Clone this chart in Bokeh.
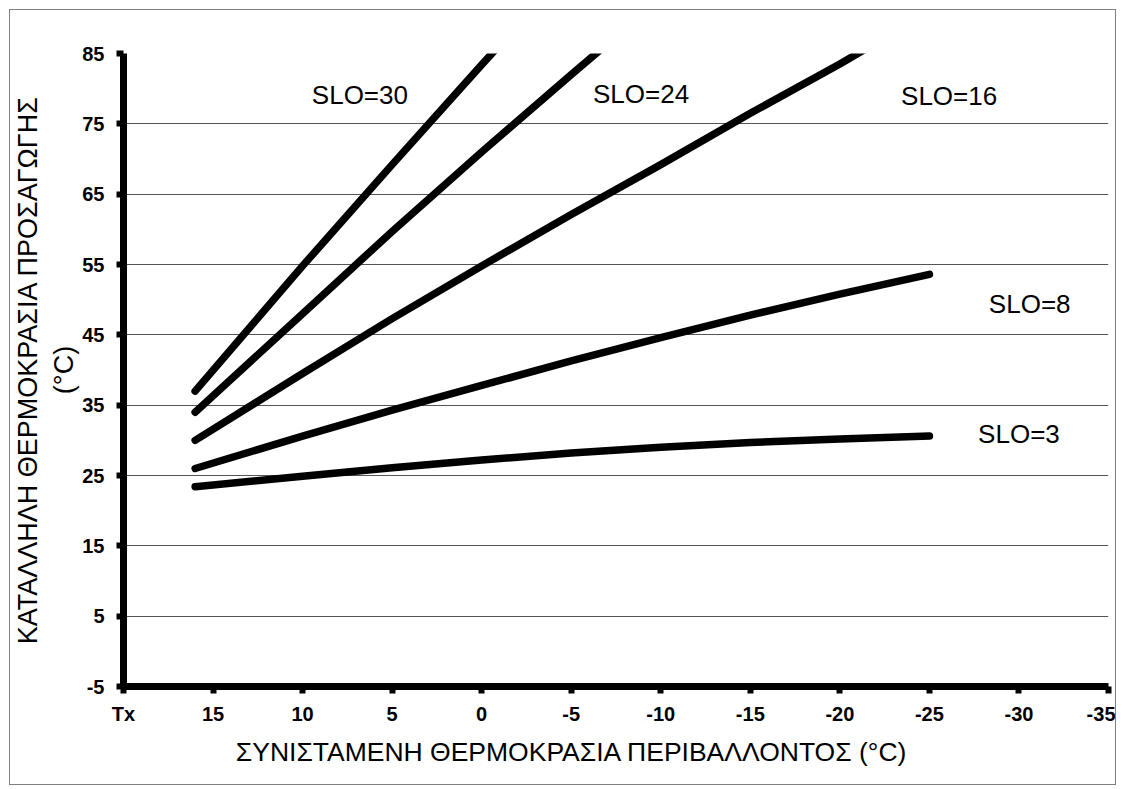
from bokeh.plotting import figure
from bokeh.models import Range1d, FixedTicker, Label
from bokeh.embed import file_html
from bokeh.resources import INLINE

# ---- data ----
x_ticks = [20, 15, 10, 5, 0, -5, -10, -15, -20, -25, -30, -35]
x_tick_labels = ["Tx", "15", "10", "5", "0", "-5", "-10", "-15", "-20", "-25", "-30", "-35"]
y_ticks = [-5, 5, 15, 25, 35, 45, 55, 65, 75, 85]
y_tick_labels = ["-5", "5", "15", "25", "35", "45", "55", "65", "75", "85"]

slo30_x = [16, 10, 5, 0, -2]
slo30_y = [37.0, 54.8, 69.2, 83.4, 89.0]

slo24_x = [16, 10, 5, 0, -5, -8]
slo24_y = [34.0, 48.0, 59.7, 71.0, 82.0, 88.5]

slo16_x = [16, 10, 5, 0, -5, -10, -15, -20, -22]
slo16_y = [30.0, 39.5, 47.3, 54.8, 62.1, 69.2, 76.5, 83.5, 86.5]

slo8_x = [16, 10, 5, 0, -5, -10, -15, -20, -25]
slo8_y = [26.0, 30.6, 34.3, 37.8, 41.3, 44.6, 47.8, 50.8, 53.6]

slo3_x = [16, 10, 5, 0, -5, -10, -15, -20, -25]
slo3_y = [23.4, 24.9, 26.1, 27.2, 28.2, 29.0, 29.7, 30.2, 30.6]

series = [
    ("SLO=30", slo30_x, slo30_y, (6.8, 79.1)),
    ("SLO=24", slo24_x, slo24_y, (-8.9, 79.3)),
    ("SLO=16", slo16_x, slo16_y, (-26.1, 79.0)),
    ("SLO=8", slo8_x, slo8_y, (-30.6, 49.4)),
    ("SLO=3", slo3_x, slo3_y, (-30.0, 30.9)),
]

x_title = "ΣΥΝΙΣΤΑΜΕΝΗ ΘΕΡΜΟΚΡΑΣΙΑ ΠΕΡΙΒΑΛΛΟΝΤΟΣ (°C)"
y_title = "ΚΑΤΑΛΛΗΛΗ ΘΕΡΜΟΚΡΑΣΙΑ ΠΡΟΣΑΓΩΓΗΣ\n(°C)"

FONT = "Liberation Sans"

p = figure(width=1107, height=776, output_backend="svg", toolbar_location=None,
           x_range=Range1d(20, -35), y_range=Range1d(-5, 85),
           min_border_left=112, min_border_right=9, min_border_top=43,
           min_border_bottom=100)
p.styles = {"border": "1px solid #808080", "margin-left": "9px", "margin-top": "9px"}
p.outline_line_color = None
p.background_fill_color = "white"
p.border_fill_color = "white"

# axes
for ax in (p.xaxis[0], p.yaxis[0]):
    ax.axis_line_width = 7
    ax.axis_line_color = "black"
    ax.major_tick_line_width = 6
    ax.major_tick_line_color = "black"
    ax.major_tick_out = 7
    ax.major_tick_in = 0
    ax.minor_tick_line_color = None
    ax.major_label_text_font = FONT
    ax.major_label_text_font_style = "bold"
    ax.major_label_text_font_size = "20px"
    ax.major_label_text_color = "black"
    ax.axis_label_text_font = FONT
    ax.axis_label_text_font_style = "normal"
    ax.axis_label_text_color = "black"

p.xaxis.ticker = FixedTicker(ticks=x_ticks)
p.xaxis.major_label_overrides = dict(zip(x_ticks, x_tick_labels))
p.xaxis.major_label_standoff = 9
p.xaxis.axis_label = x_title + "\u00a0" * 12
p.xaxis.axis_label_text_font_size = "26.5px"
p.xaxis.axis_label_standoff = 9

p.yaxis.ticker = FixedTicker(ticks=y_ticks)
p.yaxis.major_label_standoff = 12
p.yaxis.major_label_overrides = dict(zip(y_ticks, y_tick_labels))
p.yaxis.axis_label = y_title
p.yaxis.axis_label_text_font_size = "27px"
p.yaxis.axis_label_standoff = 0

p.xgrid.grid_line_color = None
p.ygrid.grid_line_color = "#555555"
p.ygrid.grid_line_width = 1

for name, xs, ys, (lx, ly) in series:
    p.line(xs, ys, line_width=7.5, line_color="black", line_cap="round",
           line_join="round")
    p.add_layout(Label(x=lx, y=ly, text=name, text_align="center",
                       text_baseline="middle", text_font=FONT,
                       text_font_size="26px", text_color="black"))

open("out.html", "w").write(file_html(p, INLINE))
